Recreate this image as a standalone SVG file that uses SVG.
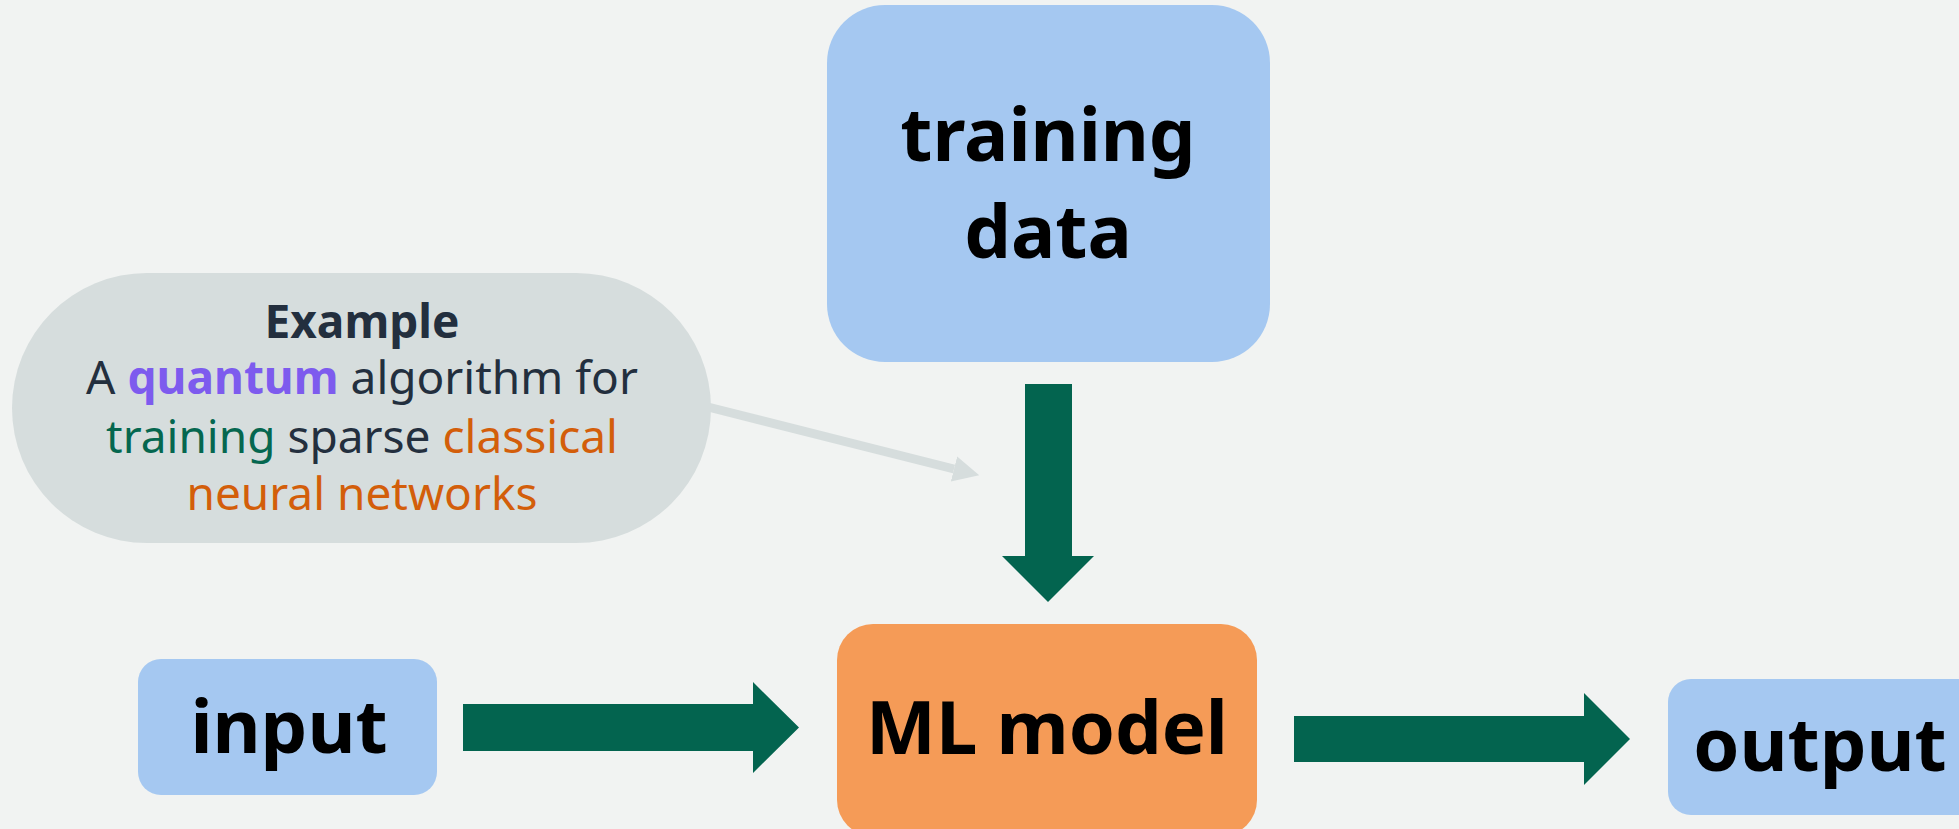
<svg xmlns="http://www.w3.org/2000/svg" width="1959" height="829" viewBox="0 0 1959 829">
<style>
.bg{fill:#F1F3F2}
.blue{fill:#A5C8F1}
.orange{fill:#F59B57}
.pill{fill:#D6DDDD}
.big{font-family:"Noto Sans","Open Sans",sans-serif;font-weight:700;font-size:74px;fill:#000;text-anchor:middle}
.ex{font-family:"Noto Sans","Open Sans",sans-serif;font-size:46px;fill:#232F3E;text-anchor:middle}
.b{font-weight:700}
.purple{fill:#7D5BEE}
.green{fill:#05674F}
.or{fill:#D35E0A}
.arrow{fill:#03644F}
.conn{stroke:#D6DDDD;stroke-width:9;fill:none}
</style>
<defs>
<marker id="grayhead" markerUnits="userSpaceOnUse" markerWidth="28" markerHeight="28" viewBox="0 0 28 28" refX="0" refY="13" orient="auto">
<path d="M0,0 L26,13 L0,26 z" fill="#D6DDDD"/>
</marker>
</defs>
<rect class="bg" x="0" y="0" width="1959" height="829"/>
<g id="connectors">
<polygon class="arrow" points="1025,384 1072,384 1072,556 1094,556 1048,602 1002,556 1025,556"/>
<polygon class="arrow" points="463,704 753,704 753,682 799,727.5 753,773 753,751 463,751"/>
<polygon class="arrow" points="1294,716 1584,716 1584,693 1630,739 1584,785 1584,762 1294,762"/>
<line class="conn" x1="708" y1="407" x2="954" y2="469" marker-end="url(#grayhead)"/>
</g>
<g id="training-data">
<rect class="blue" x="827" y="5" width="443" height="357" rx="58" ry="58"/>
<text class="big" x="1048" y="161">training</text>
<text class="big" x="1048" y="258">data</text>
</g>
<g id="example">
<rect class="pill" x="12" y="273" width="699" height="270" rx="135" ry="135"/>
<text class="ex b" x="362" y="338">Example</text>
<text class="ex" x="362" y="394">A <tspan class="b purple">quantum</tspan> algorithm for</text>
<text class="ex" x="362" y="453"><tspan class="green">training</tspan> sparse <tspan class="or">classical</tspan></text>
<text class="ex or" x="362" y="510">neural networks</text>
</g>
<g id="input">
<rect class="blue" x="138" y="659" width="299" height="136" rx="23" ry="23"/>
<text class="big" x="289" y="753">input</text>
</g>
<g id="ml-model">
<rect class="orange" x="837" y="624" width="420" height="212" rx="36" ry="36"/>
<text class="big" x="1047" y="754">ML model</text>
</g>
<g id="output">
<rect class="blue" x="1668" y="679" width="330" height="136" rx="23" ry="23"/>
<text class="big" x="1820" y="771">output</text>
</g>
</svg>
